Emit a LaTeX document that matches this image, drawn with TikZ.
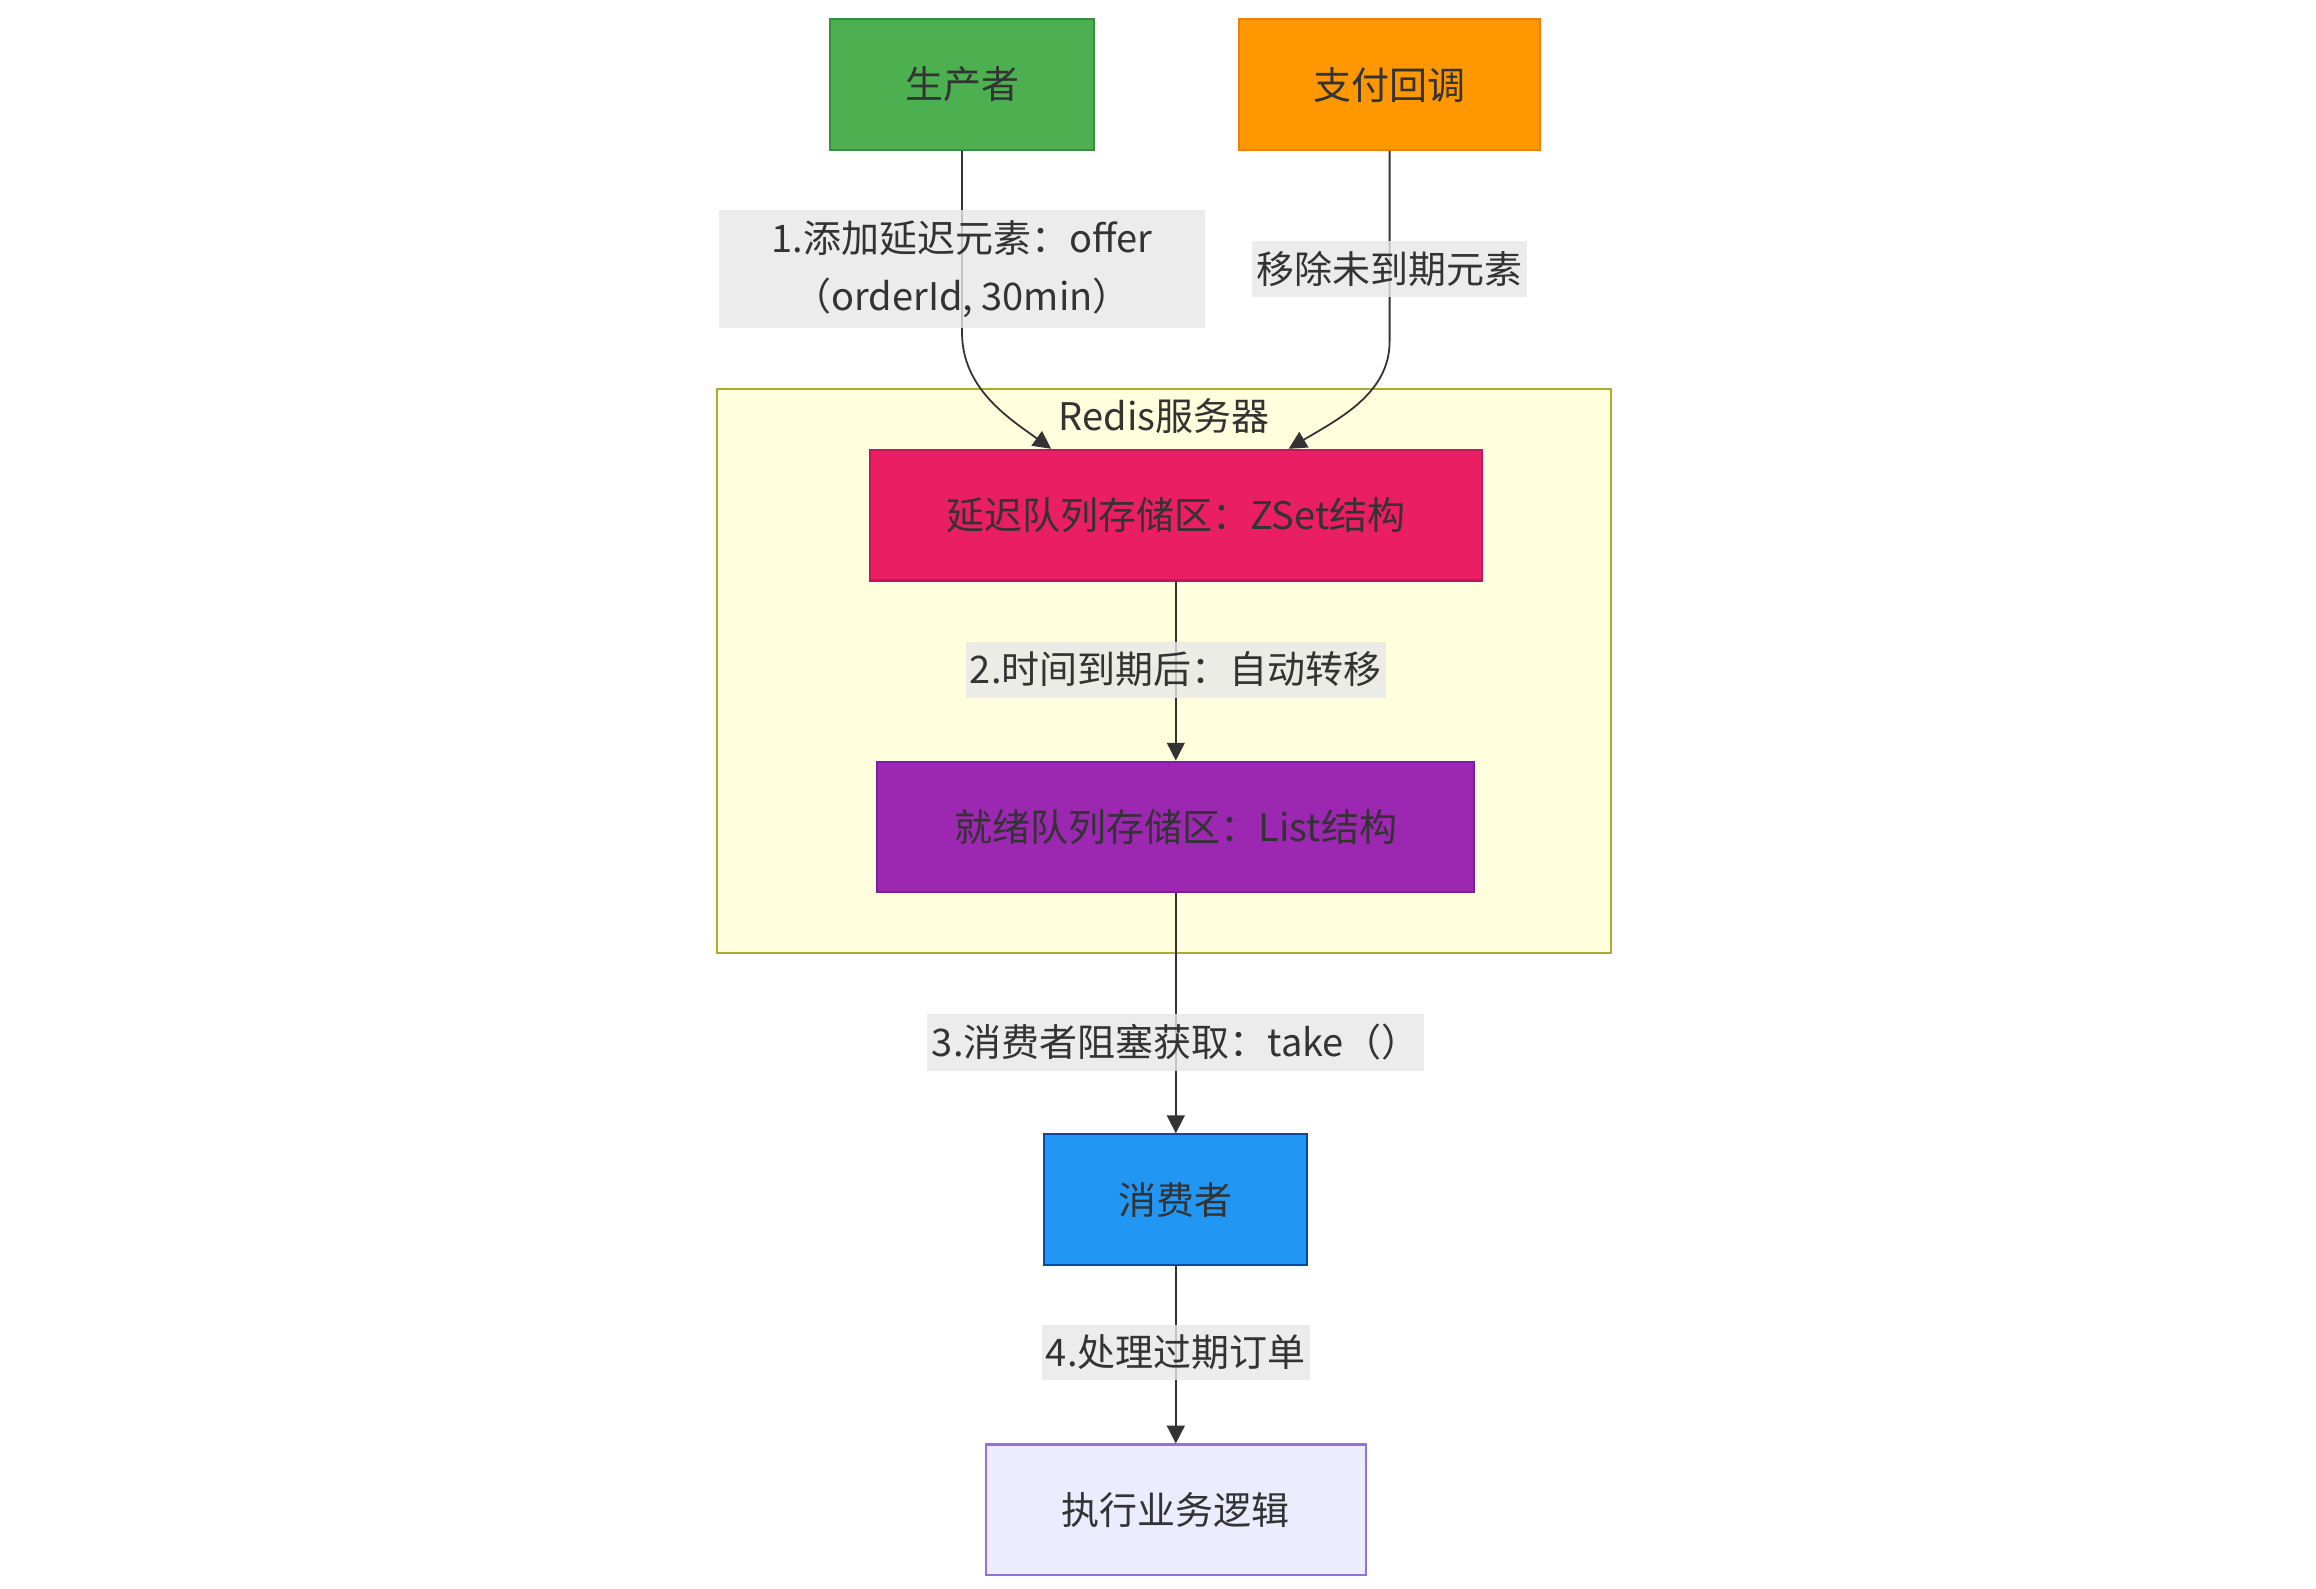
\documentclass[tikz,border=0pt]{standalone}
\usepackage{fontspec}
\setmainfont{Noto Sans CJK SC}
\usetikzlibrary{arrows.meta}

\definecolor{ink}{HTML}{333333}
\definecolor{lblgray}{HTML}{E8E8E8}
\definecolor{prodfill}{HTML}{4CAF50}
\definecolor{prodline}{HTML}{388E3C}
\definecolor{payfill}{HTML}{FF9800}
\definecolor{payline}{HTML}{F57C00}
\definecolor{zsetfill}{HTML}{E91E63}
\definecolor{zsetline}{HTML}{C2185B}
\definecolor{listfill}{HTML}{9C27B0}
\definecolor{listline}{HTML}{7B1FA2}
\definecolor{consfill}{HTML}{2196F3}
\definecolor{consline}{HTML}{0D47A1}
\definecolor{execfill}{HTML}{ECECFF}
\definecolor{execline}{HTML}{9370DB}
\definecolor{redisfill}{HTML}{FFFFDE}
\definecolor{redisline}{HTML}{AAAA33}

\tikzset{
  txt/.style={text=ink, font=\fontsize{12.8}{19.5}\selectfont},
  box/.style={txt, draw, line width=0.7pt, minimum height=44pt},
  lbl/.style={txt, fill=lblgray, fill opacity=0.8, text opacity=1,
    inner xsep=1.5pt, inner ysep=3.5pt, align=center},
  flow/.style={draw=ink, line width=0.6pt, -{Triangle[length=6pt,width=6pt]}}
}

\begin{document}
\begin{tikzpicture}[x=0.5pt,y=-0.5pt]
  \fill[white] (0,0) rectangle (1560,1070);
  \useasboundingbox (0,0) rectangle (1560,1070);

  % Redis cluster
  \node[draw=redisline, fill=redisfill, line width=0.7pt,
    minimum width=301pt, minimum height=190pt] (redis) at (784,452) {};
  \node[txt] (redislbl) at (784,280) {Redis服务器};

  \node[box, fill=prodfill, draw=prodline, minimum width=89pt] (prod) at (648,57) {生产者};
  \node[box, fill=payfill, draw=payline, minimum width=101.5pt] (pay) at (936,57) {支付回调};
  \node[box, fill=zsetfill, draw=zsetline, minimum width=206pt] (zset) at (792,347) {延迟队列存储区：ZSet结构};
  \node[box, fill=listfill, draw=listline, minimum width=201pt] (list) at (792,557) {就绪队列存储区：List结构};
  \node[box, fill=consfill, draw=consline, minimum width=88.5pt] (cons) at (792,808) {消费者};
  \node[box, fill=execfill, draw=execline, minimum width=128pt] (exec) at (792,1017) {执行业务逻辑};

  % connectors
  \draw[flow] (prod.south) -- (648,224)
    .. controls (648,262) and (680,282) .. ([xshift=-42pt]zset.north);
  \draw[flow] (pay.south) -- (936,230)
    .. controls (936,265) and (902,282) .. ([xshift=38pt]zset.north);
  \foreach \a/\b in {zset/list,list/cons,cons/exec}{
    \draw[flow] (\a.south) -- (\b.north);
  }

  % edge labels
  \node[lbl, minimum width=163.5pt, minimum height=38.5pt] (l1) at (648,181)
    {1.添加延迟元素：offer\\（orderId, 30min）};
  \node[lbl] (l5) at (936,181) {移除未到期元素};
  \node[lbl] (l2) at (792,451) {2.时间到期后：自动转移};
  \node[lbl] (l3) at (792,702) {3.消费者阻塞获取：take（）};
  \node[lbl] (l4) at (792,911) {4.处理过期订单};
\end{tikzpicture}
\end{document}
